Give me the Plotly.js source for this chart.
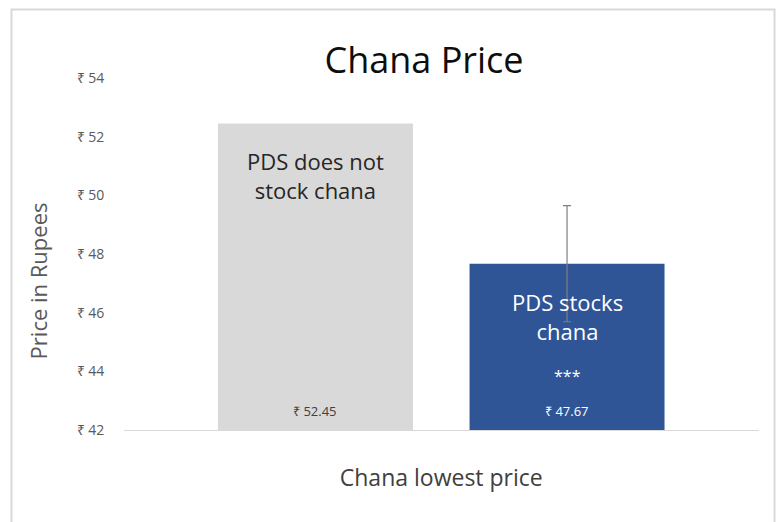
<!DOCTYPE html>
<html>
<head>
<meta charset="utf-8">
<script src="https://cdn.plot.ly/plotly-3.0.1.min.js"></script>
<style>html,body{margin:0;padding:0;background:#fff;}#chart{width:778px;height:522px;}</style>
</head>
<body>
<div id="chart"></div>
<script>
// ---- data ----
const groupNames = ["PDS does not<br>stock chana", "PDS stocks<br>chana"];
const prices = [52.45, 47.67];
const valueLabels = ["₹ 52.45", "₹ 47.67"];
const errorPlus = [null, 1.98];
const significance = ["", "***"];
const categoryLabel = ["Chana lowest price"];
const yTickVals = [42, 44, 46, 48, 50, 52, 54];
const yTickText = ["₹ 42", "₹ 44", "₹ 46", "₹ 48", "₹ 50", "₹ 52", "₹ 54"];

const positions = [0, 1];
const colors = ["#d9d9d9", "#2f5597"];
const labelColors = ["#262626", "#ffffff"];
const valueColors = ["#404040", "#ffffff"];
const titleFont = "'Open Sans', 'Noto Sans', sans-serif";
const tickFont = "'Open Sans', 'Liberation Sans', sans-serif";

const traces = positions.map((p, i) => {
  const t = {
    type: "bar",
    x: [p],
    y: [prices[i]],
    width: 0.775,
    marker: {color: colors[i], line: {width: 0}},
    hoverinfo: "none",
    showlegend: false
  };
  if (errorPlus[i] !== null) {
    t.error_y = {type: "data", array: [errorPlus[i]], symmetric: true, color: "#7f7f7f", thickness: 1.2, width: 4};
  }
  return t;
});

const annotations = [];
positions.forEach((p, i) => {
  annotations.push({
    x: p, y: prices[i], xref: "x", yref: "y",
    text: groupNames[i], showarrow: false,
    yanchor: "top", yshift: -21,
    font: {family: titleFont, size: 22, color: labelColors[i]}
  });
  annotations.push({
    x: p, y: yTickVals[0], xref: "x", yref: "y",
    text: valueLabels[i], showarrow: false,
    yanchor: "middle", yshift: 19,
    font: {family: tickFont, size: 13, color: valueColors[i]}
  });
  if (significance[i]) {
    annotations.push({
      x: p, y: yTickVals[0], xref: "x", yref: "y",
      text: significance[i], showarrow: false,
      yanchor: "middle", yshift: 54,
      font: {family: tickFont, size: 16, color: "#ffffff"}
    });
  }
});
annotations.push({
  x: -0.135, y: 0.423, xref: "paper", yref: "paper",
  text: "Price in Rupees", textangle: -90, showarrow: false,
  xanchor: "center", yanchor: "middle",
  font: {family: tickFont, size: 22, color: "#595959"}
});

const layout = {
  width: 778, height: 522,
  margin: {l: 124, r: 19, t: 78, b: 92},
  paper_bgcolor: "#ffffff", plot_bgcolor: "#ffffff",
  barmode: "overlay",
  title: {text: "Chana Price", x: 0.545, xanchor: "center", y: 0.885, yanchor: "middle",
          font: {family: titleFont, size: 36, color: "#0d0d0d"}},
  xaxis: {
    range: [-0.761, 1.763],
    tickvals: [0.5], ticktext: categoryLabel,
    ticks: "outside", ticklen: 27, tickcolor: "rgba(0,0,0,0)",
    tickfont: {family: titleFont, size: 23, color: "#404040"},
    showgrid: false, zeroline: false,
    showline: true, linecolor: "#d9d9d9", linewidth: 1.2
  },
  yaxis: {
    range: [42, 54],
    tickvals: yTickVals, ticktext: yTickText,
    ticks: "outside", ticklen: 16, tickcolor: "rgba(0,0,0,0)",
    tickfont: {family: tickFont, size: 14, color: "#595959"},
    showgrid: false, zeroline: false, showline: false
  },
  annotations: annotations,
  shapes: [{
    type: "rect", xref: "paper", yref: "paper",
    x0: -0.1772, x1: 1.0244, y0: -0.3, y1: 1.1946,
    line: {color: "#d9d9d9", width: 2}, fillcolor: "rgba(0,0,0,0)", layer: "below"
  }]
};

Plotly.newPlot("chart", traces, layout, {displayModeBar: false, staticPlot: true});
</script>
</body>
</html>
